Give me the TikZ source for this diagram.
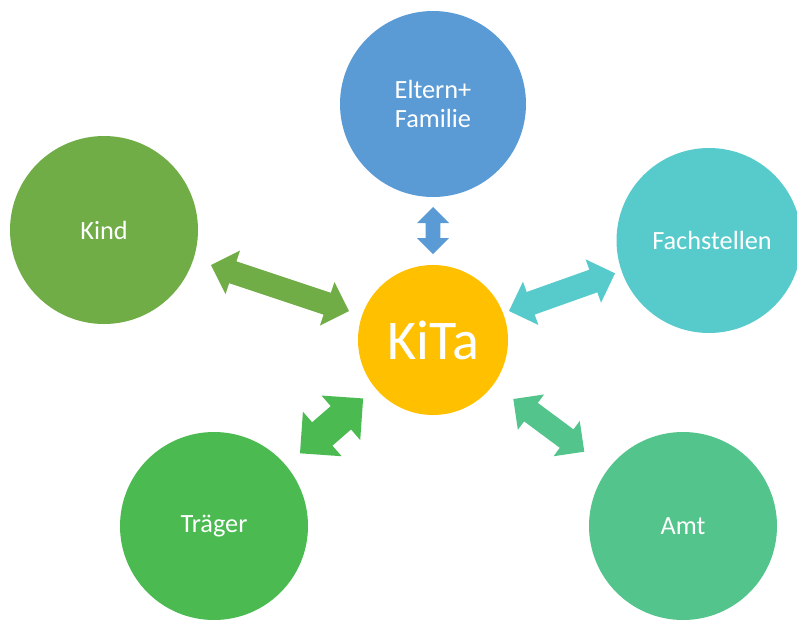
\documentclass[tikz,border=0pt]{standalone}
\usepackage{fontspec}
\setmainfont{Carlito}
\usetikzlibrary{calc}

\definecolor{elternblue}{HTML}{5B9BD5}
\definecolor{kindgreen}{HTML}{70AD47}
\definecolor{fachteal}{HTML}{57CACC}
\definecolor{traegergreen}{HTML}{4BBB51}
\definecolor{amtgreen}{HTML}{52C48C}
\definecolor{kitayellow}{HTML}{FFC000}

% double-headed block arrow between two named coordinates
% #1 start, #2 end, #3 head half width (= head length), #4 shaft half width, #5 colour
\newcommand\blockarrow[5]{%
  \path let \p1=($(#2)-(#1)$) in \pgfextra{%
    \pgfmathsetmacro\arrang{atan2(\y1,\x1)}%
    \pgfmathsetmacro\arrlen{veclen(\x1,\y1)}%
    \global\let\arrangG\arrang\global\let\arrlenG\arrlen};
  \begin{scope}[shift={(#1)}, rotate=\arrangG, x=1pt, y=1pt]
    \fill[#5] (0,0) -- (#3,#3) -- (#3,#4) -- (\arrlenG-#3,#4) -- (\arrlenG-#3,#3)
      -- (\arrlenG,0) -- (\arrlenG-#3,-#3) -- (\arrlenG-#3,-#4) -- (#3,-#4)
      -- (#3,-#3) -- cycle;
  \end{scope}}

\tikzset{
  partner/.style={circle, inner sep=0pt, text=white, font=\fontsize{26.3}{29}\selectfont, align=center},
}

\begin{document}
\begin{tikzpicture}[x=1pt, y=-1pt]
  \useasboundingbox (0,0) rectangle (797,619);

  % circles
  \node[partner, fill=elternblue, minimum size=186pt] (eltern) at (433,104) {Eltern+\\Familie};
  \node[partner, fill=kindgreen, minimum size=188pt] (kind) at (104,230) {Kind};
  \node[partner, fill=fachteal, minimum size=185pt] (fach) at (709,240.5) {\hspace*{6pt}Fachstellen};
  \node[partner, fill=traegergreen, minimum size=188pt] (traeger) at (214,526) {\raisebox{-2pt}{Träger}};
  \node[partner, fill=amtgreen, minimum size=188pt] (amt) at (683,526) {Amt};
  \node[circle, inner sep=0pt, fill=kitayellow, minimum size=150pt, text=white,
        font=\fontsize{56}{60}\selectfont] (kita) at (433,340) {KiTa};

  % arrow end points
  \coordinate (e1) at (433,207);   \coordinate (e2) at (433,254);
  \coordinate (k1) at (211,265);   \coordinate (k2) at (349,311);
  \coordinate (f1) at (509,311);   \coordinate (f2) at (615,273.3);
  \coordinate (t1) at (300,453.3); \coordinate (t2) at (363.3,398.3);
  \coordinate (a1) at (513.3,399); \coordinate (a2) at (584.3,451.7);

  % connectors
  \blockarrow{e1}{e2}{16}{7.3}{elternblue}
  \blockarrow{k1}{k2}{23}{11.5}{kindgreen}
  \blockarrow{f1}{f2}{23}{12}{fachteal}
  \blockarrow{t1}{t2}{29.5}{15.5}{traegergreen}
  \blockarrow{a1}{a2}{22}{11.5}{amtgreen}
\end{tikzpicture}
\end{document}
